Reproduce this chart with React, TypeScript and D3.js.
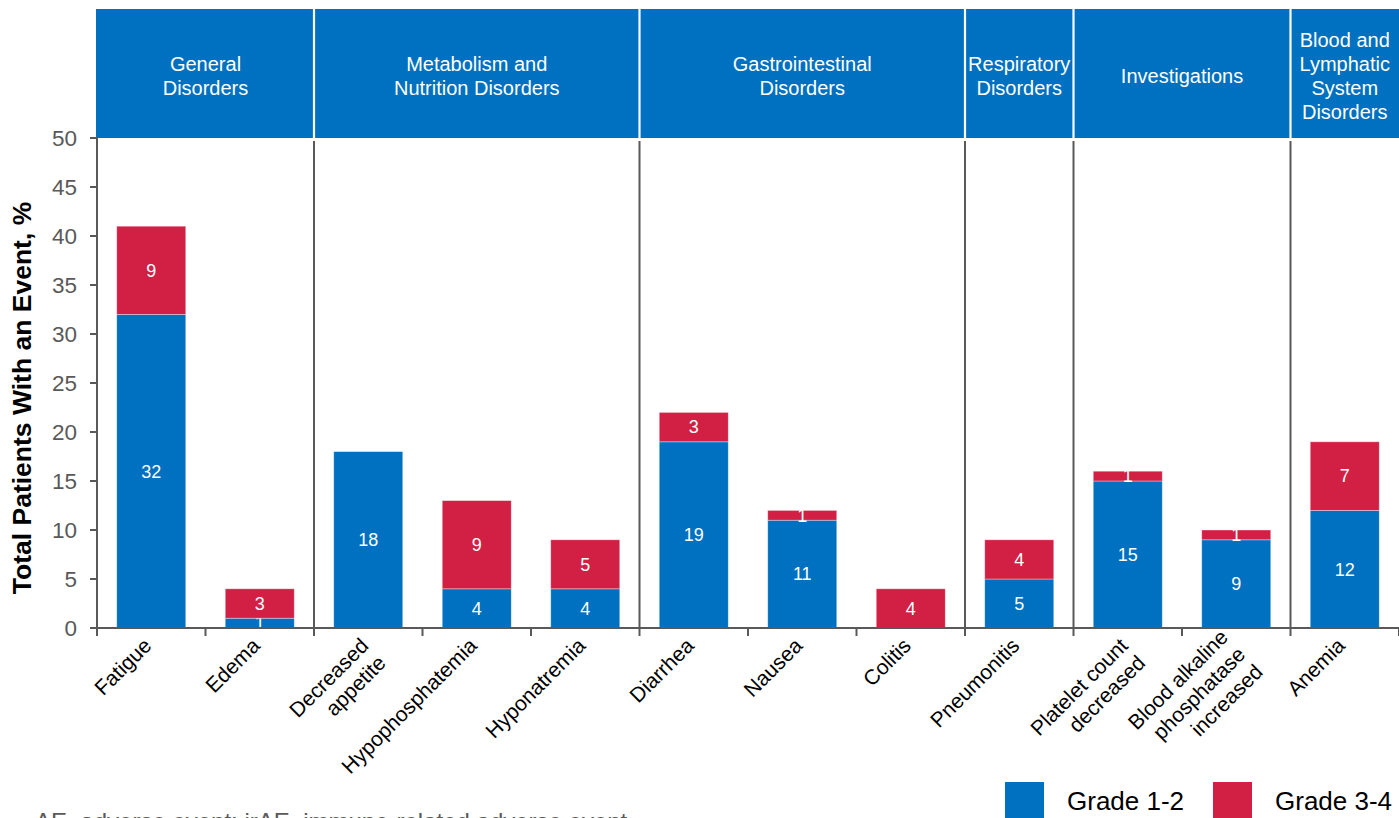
import React from "react";
import * as d3 from "d3";

const categories = [
  "Fatigue",
  "Edema",
  "Decreased\nappetite",
  "Hypophosphatemia",
  "Hyponatremia",
  "Diarrhea",
  "Nausea",
  "Colitis",
  "Pneumonitis",
  "Platelet count\ndecreased",
  "Blood alkaline\nphosphatase\nincreased",
  "Anemia",
];
const grade12 = [32, 1, 18, 4, 4, 19, 11, 0, 5, 15, 9, 12];
const grade34 = [9, 3, 0, 9, 5, 3, 1, 4, 4, 1, 1, 7];

const groupNames = [
  "General\nDisorders",
  "Metabolism and\nNutrition Disorders",
  "Gastrointestinal\nDisorders",
  "Respiratory\nDisorders",
  "Investigations",
  "Blood and\nLymphatic\nSystem\nDisorders",
];
const groupSizes = [2, 3, 3, 1, 2, 1];

const yTicks = [0, 5, 10, 15, 20, 25, 30, 35, 40, 45, 50];
const seriesNames = ["Grade 1-2", "Grade 3-4"];

const BLUE = "#0070C0";
const RED = "#D21F44";
const GRAY = "#595959";
const FONT = "'Liberation Sans', Arial, Helvetica, sans-serif";

export default function App() {
  const W = 1399;
  const H = 818;
  const left = 97;
  const right = 1399;
  const top = 138;
  const bottom = 628;

  const x = d3
    .scaleBand<string>()
    .domain(categories)
    .range([left, right])
    .paddingInner(0.364)
    .paddingOuter(0.182);
  const y = d3.scaleLinear().domain([0, 50]).range([bottom, top]);

  const step = x.step();
  const boundary = (i: number) => left + i * step;

  const groupStarts: number[] = [];
  let acc = 0;
  groupSizes.forEach((s) => {
    groupStarts.push(acc);
    acc += s;
  });

  const stacked = categories.map((c, i) => {
    const a = grade12[i];
    const b = grade34[i];
    return [
      { key: 0, y0: 0, y1: a, v: a },
      { key: 1, y0: a, y1: a + b, v: b },
    ];
  });

  return (
    <svg
      width={W}
      height={H}
      style={{ position: "absolute", left: 0, top: 0 }}
      fontFamily={FONT}
    >
      <rect x={0} y={0} width={W} height={H} fill="#fff" />

      {/* Header band */}
      <rect x={96} y={9} width={right - 96} height={top - 9} fill={BLUE} />
      {groupNames.map((g, gi) => {
        const x0 = boundary(groupStarts[gi]);
        const x1 = boundary(groupStarts[gi] + groupSizes[gi]);
        const lines = g.split("\n");
        const cx = (x0 + x1) / 2;
        return (
          <g key={g}>
            {gi > 0 && (
              <line x1={x0} x2={x0} y1={9} y2={top} stroke="#fff" strokeWidth={2.2} />
            )}
            <text x={cx} textAnchor="middle" fill="#fff" fontSize={20}>
              {lines.map((l, li) => (
                <tspan key={li} x={cx} y={83 + (li - (lines.length - 1) / 2) * 24}>
                  {l}
                </tspan>
              ))}
            </text>
          </g>
        );
      })}

      {/* Group separators in plot */}
      {groupStarts.slice(1).map((s) => (
        <line
          key={s}
          x1={boundary(s)}
          x2={boundary(s)}
          y1={141}
          y2={bottom}
          stroke={GRAY}
          strokeWidth={2}
        />
      ))}

      {/* Bars */}
      {stacked.map((segs, i) => (
        <g key={categories[i]}>
          {segs.map((s) =>
            s.v > 0 ? (
              <g key={s.key}>
                <rect
                  x={x(categories[i])!}
                  width={x.bandwidth()}
                  y={y(s.y1)}
                  height={y(s.y0) - y(s.y1)}
                  fill={s.key === 0 ? BLUE : RED}
                  stroke="#ffffff"
                  strokeOpacity={0.45}
                  strokeWidth={0.8}
                />
                <text
                  x={x(categories[i])! + x.bandwidth() / 2}
                  y={y((s.y0 + s.y1) / 2)}
                  dy="0.35em"
                  textAnchor="middle"
                  fill="#fff"
                  fontSize={18}
                >
                  {s.v}
                </text>
              </g>
            ) : null
          )}
        </g>
      ))}

      {/* Y axis */}
      <line x1={left} x2={left} y1={top} y2={bottom + 8} stroke={GRAY} strokeWidth={2} />
      {yTicks.map((t) => (
        <g key={t}>
          <line x1={90} x2={left} y1={y(t)} y2={y(t)} stroke={GRAY} strokeWidth={2} />
          <text
            x={77}
            y={y(t)}
            dy="0.36em"
            textAnchor="end"
            fill={GRAY}
            fontSize={22.5}
          >
            {t}
          </text>
        </g>
      ))}
      <text
        transform={`translate(31, 398) rotate(-90)`}
        textAnchor="middle"
        fontWeight="bold"
        fontSize={26.5}
        fill="#000"
      >
        Total Patients With an Event, %
      </text>

      {/* X axis */}
      <line x1={left} x2={right} y1={bottom} y2={bottom} stroke={GRAY} strokeWidth={2} />
      {d3.range(categories.length + 1).map((i) => (
        <line
          key={i}
          x1={boundary(i)}
          x2={boundary(i)}
          y1={bottom}
          y2={bottom + 8}
          stroke={GRAY}
          strokeWidth={2}
        />
      ))}
      {categories.map((c) => {
        const lines = c.split("\n");
        const cx = x(c)! + x.bandwidth() / 2;
        const shift = lines.length > 2 ? -12 : 0;
        return (
          <text
            key={c}
            transform={`translate(${cx + 1.5}, 647) rotate(-45)`}
            textAnchor="end"
            fontSize={21}
            fill="#000"
          >
            {lines.map((l, li) => (
              <tspan key={li} x={0} y={li * 24.5 + shift}>
                {l}
              </tspan>
            ))}
          </text>
        );
      })}

      {/* Legend */}
      {seriesNames.map((s, i) => {
        const lx = i === 0 ? 1005 : 1213;
        return (
          <g key={s}>
            <rect x={lx} y={782} width={39} height={39} fill={i === 0 ? BLUE : RED} />
            <text x={lx + 62} y={810} fontSize={26} fill="#000">
              {s}
            </text>
          </g>
        );
      })}

      {/* Footnote (cut off at the bottom edge, as in the reference) */}
      <text x={35} y={830} fontSize={24} fill={GRAY}>
        AE, adverse event; irAE, immune-related adverse event
      </text>
    </svg>
  );
}
